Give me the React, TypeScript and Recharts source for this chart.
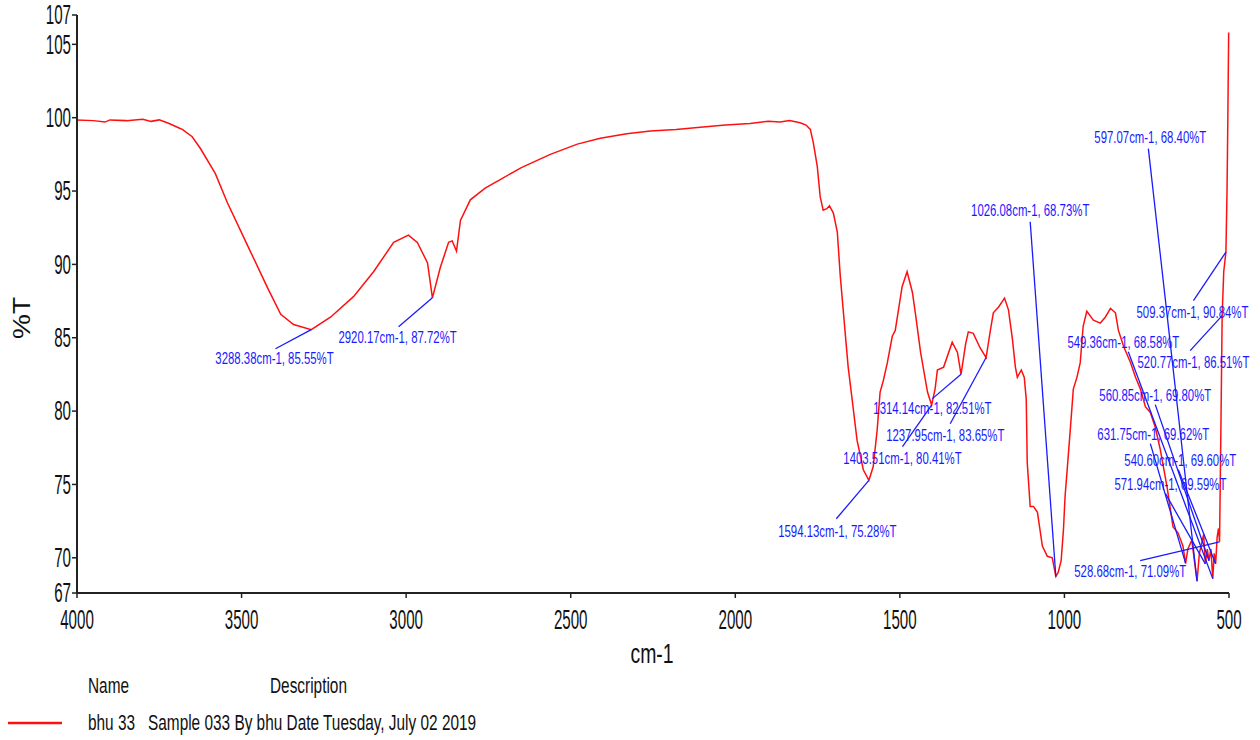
import React from "react";
import { LineChart, Line, XAxis, YAxis, ReferenceLine, ReferenceDot } from "recharts";

// FTIR spectrum, wavenumber (cm-1) vs transmittance (%T)
const wavenumber = [
  4000, 3950, 3915, 3900, 3850, 3800, 3775, 3750, 3720, 3690, 3680, 3650, 3625, 3580, 3543,
  3482, 3421, 3381, 3342, 3288.38, 3230, 3160, 3099, 3038, 2993, 2966, 2935, 2920.17, 2896,
  2871, 2860, 2847, 2835, 2805, 2760, 2713, 2650, 2562, 2480, 2410, 2330, 2258, 2180, 2106,
  2030, 1955, 1900, 1864, 1835, 1803, 1785, 1772, 1763, 1751, 1742, 1733, 1722, 1714, 1702,
  1690, 1681, 1666, 1657, 1645, 1630, 1611, 1594.13, 1581, 1569, 1560, 1550, 1538, 1523,
  1514, 1493, 1478, 1462, 1453, 1437, 1416, 1403.51, 1393, 1386, 1367, 1341, 1325, 1314.14,
  1300, 1292, 1277, 1256, 1237.95, 1225, 1216, 1200, 1182, 1170, 1158, 1149, 1143, 1131,
  1122, 1116, 1113, 1104, 1094, 1082, 1067, 1052, 1037, 1026.08, 1019, 1010, 1003, 998, 991,
  983, 973, 962, 952, 943, 932, 912, 891, 876, 860, 845, 836, 820, 799, 784, 769, 754, 739,
  724, 709, 688, 670, 655, 640, 631.75, 625, 613, 604, 597.07, 590, 583, 577, 571.94, 566,
  560.85, 555, 549.36, 545, 540.6, 536, 532, 528.68, 525, 520.77, 516, 509.37, 506, 503.5, 501,
];
const transmittance = [
  99.85, 99.8, 99.7, 99.85, 99.8, 99.9, 99.75, 99.85, 99.6, 99.3, 99.2, 98.7, 97.9, 96.2, 94.2,
  91.3, 88.4, 86.6, 85.9, 85.55, 86.4, 87.8, 89.5, 91.5, 92.0, 91.5, 90.1, 87.72, 89.8,
  91.5, 91.6, 90.9, 93.0, 94.4, 95.2, 95.8, 96.6, 97.5, 98.2, 98.6, 98.9, 99.1, 99.2, 99.35,
  99.5, 99.6, 99.75, 99.7, 99.8, 99.66, 99.5, 99.2, 98.3, 96.7, 94.6, 93.7, 93.8, 94.0, 93.5,
  92.2, 89.2, 85.3, 83.0, 80.8, 78.0, 76.0, 75.28, 76.2, 78.7, 81.3, 82.1, 83.3, 85.1,
  85.5, 88.5, 89.5, 88.1, 86.7, 84.0, 81.3, 80.41, 81.5, 82.8, 83.0, 84.7, 84.0, 82.51,
  84.6, 85.4, 85.3, 84.3, 83.65, 85.5, 86.7, 87.1, 87.7, 86.9, 84.9, 83.0, 82.3, 82.8,
  82.3, 80.8, 76.5, 73.5, 73.5, 73.1, 70.8, 70.1, 70.0, 68.73, 69.0, 69.8, 71.9, 74.2, 76.2,
  78.5, 81.5, 82.3, 83.3, 85.8, 86.8, 86.2, 86.0, 86.4, 87.0, 86.7, 85.5, 84.4, 83.3, 82.3, 81.5, 80.3, 79.9,
  78.9, 77.4, 74.8, 72.1, 71.7, 70.8, 69.62, 70.6, 71.2, 69.6, 68.4, 70.3, 71.0, 71.6, 69.59, 70.6,
  69.8, 70.6, 68.58, 70.3, 69.6, 71.4, 72.0, 71.09, 78.0, 86.51, 89.5, 90.84, 95.0, 100.0, 105.8,
];

const xTicks = [4000, 3500, 3000, 2500, 2000, 1500, 1000, 500];
const yTicks = [67.6, 70, 75, 80, 85, 90, 95, 100, 105, 107];

// marked peaks
const peakWn = [
  3288.38, 2920.17, 1594.13, 1403.51, 1314.14, 1237.95, 1026.08, 597.07,
  509.37, 549.36, 520.77, 560.85, 631.75, 540.6, 571.94, 528.68,
];
const peakT = [
  85.55, 87.72, 75.28, 80.41, 82.51, 83.65, 68.73, 68.4,
  90.84, 68.58, 86.51, 69.8, 69.62, 69.6, 69.59, 71.09,
];

// caption placement in axis units: [text cm-1, text %T, leader cm-1, leader %T]
const captionSpots = [
  [3400, 83.64, 3397, 84.25],
  [3026, 85.07, 3023, 85.75],
  [1690, 71.85, 1693, 72.66],
  [1492, 76.82, 1492, 77.57],
  [1401, 80.23, 1401, 80.85],
  [1362, 78.39, 1347, 79.14],
  [1104, 93.73, 1104, 92.91],
  [739, 98.7, 745, 97.89],
  [611, 86.78, 608, 87.53],
  [821, 84.73, 806, 84.05],
  [608, 83.37, 618, 84.12],
  [724, 81.12, 724, 80.44],
  [730, 78.46, 739, 77.78],
  [648, 76.69, 654, 76.0],
  [678, 75.05, 693, 74.37],
  [800, 69.12, 770, 69.8],
];

const FONT = "'Liberation Sans', Arial, sans-serif";
const RED = "#ff1010";
const BLUE = "#1a1aff";

const data = wavenumber.map((wn, i) => ({ wn, t: transmittance[i] }));

type SqProps = {
  x: number;
  y: number;
  sx: number;
  size: number;
  anchor?: "start" | "middle" | "end";
  fill?: string;
  children: React.ReactNode;
};

// text squeezed horizontally around its anchor point
const Squeezed = ({ x, y, sx, size, anchor = "middle", fill = "#111", children }: SqProps) => (
  <g transform={`translate(${x},${y}) scale(${sx},1)`}>
    <text x={0} y={0} textAnchor={anchor} dominantBaseline="central" fontSize={size} fontFamily={FONT} fill={fill}>
      {children}
    </text>
  </g>
);

const YTick = (props: any) => (
  <Squeezed x={props.x} y={props.y} sx={0.56} size={27} anchor="end">
    {Math.floor(props.payload.value)}
  </Squeezed>
);

const XTick = (props: any) => (
  <Squeezed x={props.x} y={props.y + 22} sx={0.56} size={27}>
    {props.payload.value}
  </Squeezed>
);

const caption = (i: number) => `${peakWn[i].toFixed(2)}cm-1, ${peakT[i].toFixed(2)}%T`;

export default function App() {
  return (
    <div style={{ position: "absolute", left: 0, top: 0, width: 1260, height: 740, background: "#fff" }}>
      <LineChart
        width={1260}
        height={740}
        data={data}
        margin={{ top: 15, right: 31, bottom: 107, left: 17 }}
      >
        <XAxis
          dataKey="wn"
          type="number"
          domain={[500, 4000]}
          reversed
          ticks={xTicks}
          interval={0}
          height={40}
          tickSize={5}
          tickMargin={0}
          axisLine={{ stroke: "#222", strokeWidth: 2 }}
          tickLine={{ stroke: "#222", strokeWidth: 1.5 }}
          tick={<XTick />}
        />
        <YAxis
          type="number"
          domain={[67.6, 107]}
          ticks={yTicks}
          interval={0}
          width={60}
          tickSize={5}
          tickMargin={1}
          axisLine={{ stroke: "#222", strokeWidth: 2 }}
          tickLine={{ stroke: "#222", strokeWidth: 1.5 }}
          tick={<YTick />}
        />
        <Line
          dataKey="t"
          type="linear"
          stroke={RED}
          strokeWidth={1.5}
          dot={false}
          isAnimationActive={false}
        />
        {captionSpots.map((s, i) => (
          <ReferenceLine
            key={`lead-${i}`}
            segment={[
              { x: s[2], y: s[3] },
              { x: peakWn[i], y: peakT[i] },
            ]}
            stroke={BLUE}
            strokeWidth={1.3}
            ifOverflow="visible"
          />
        ))}
        {captionSpots.map((s, i) => (
          <ReferenceDot
            key={`cap-${i}`}
            x={s[0]}
            y={s[1]}
            r={0}
            ifOverflow="visible"
            shape={(p: any) => (
              <Squeezed x={p.cx} y={p.cy} sx={0.67} size={17} fill={BLUE}>
                {caption(i)}
              </Squeezed>
            )}
          />
        ))}
      </LineChart>
      <svg
        width={1260}
        height={740}
        style={{ position: "absolute", left: 0, top: 0, pointerEvents: "none" }}
      >
        <g transform="translate(22,318) scale(0.85,1) rotate(-90)">
          <text textAnchor="middle" dominantBaseline="central" fontSize={28} fontFamily={FONT} fill="#111">
            %T
          </text>
        </g>
        <Squeezed x={652} y={654} sx={0.72} size={27}>
          cm-1
        </Squeezed>
        <Squeezed x={88} y={685} sx={0.7} size={22} anchor="start">
          Name
        </Squeezed>
        <Squeezed x={270} y={685} sx={0.7} size={22} anchor="start">
          Description
        </Squeezed>
        <line x1={8} x2={62} y1={723} y2={723} stroke={RED} strokeWidth={2.5} />
        <Squeezed x={88} y={722} sx={0.7} size={22} anchor="start">
          bhu 33
        </Squeezed>
        <Squeezed x={148} y={722} sx={0.7} size={22} anchor="start">
          Sample 033 By bhu Date Tuesday, July 02 2019
        </Squeezed>
      </svg>
    </div>
  );
}
